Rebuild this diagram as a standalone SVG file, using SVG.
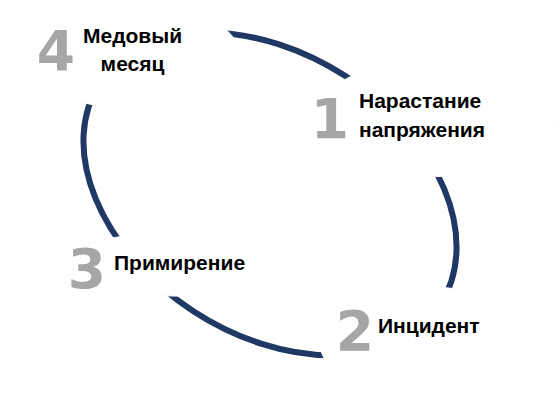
<svg xmlns="http://www.w3.org/2000/svg" width="560" height="401" viewBox="0 0 560 401">
<style>
.ring{fill:none;stroke:#1f3864;stroke-width:6}
.bg{fill:#ffffff;stroke:#fcfcfc;stroke-width:1}
.num{font-family:"DejaVu Sans",sans-serif;font-weight:bold;font-size:55px;fill:#a6a6a6;text-anchor:middle}
.lbl{font-family:"Liberation Sans",Arial,sans-serif;font-weight:bold;font-size:21px;fill:#000000}
</style>
<rect width="560" height="401" fill="#ffffff"/>
<g id="connectors">
<ellipse class="ring" cx="270" cy="194" rx="203" ry="140" transform="rotate(33 270 194)"/>
</g>
<g id="node4">
<ellipse class="bg" cx="134" cy="56" rx="106" ry="53"/>
<text class="num" x="56" y="70">4</text>
<text class="lbl" x="132.5" y="43" text-anchor="middle">Медовый</text>
<text class="lbl" x="132.5" y="71" text-anchor="middle">месяц</text>
</g>
<g id="node1">
<ellipse class="bg" cx="436" cy="118" rx="121" ry="58.5"/>
<text class="num" x="330" y="138">1</text>
<text class="lbl" x="359" y="108">Нарастание</text>
<text class="lbl" x="359" y="137">напряжения</text>
</g>
<g id="node3">
<ellipse class="bg" cx="185" cy="264" rx="123" ry="32.2"/>
<text class="num" x="87" y="288">3</text>
<text class="lbl" x="114" y="270">Примирение</text>
</g>
<g id="node2">
<ellipse class="bg" cx="428" cy="343" rx="108" ry="56"/>
<text class="num" x="355" y="350">2</text>
<text class="lbl" x="378" y="333">Инцидент</text>
</g>
</svg>
